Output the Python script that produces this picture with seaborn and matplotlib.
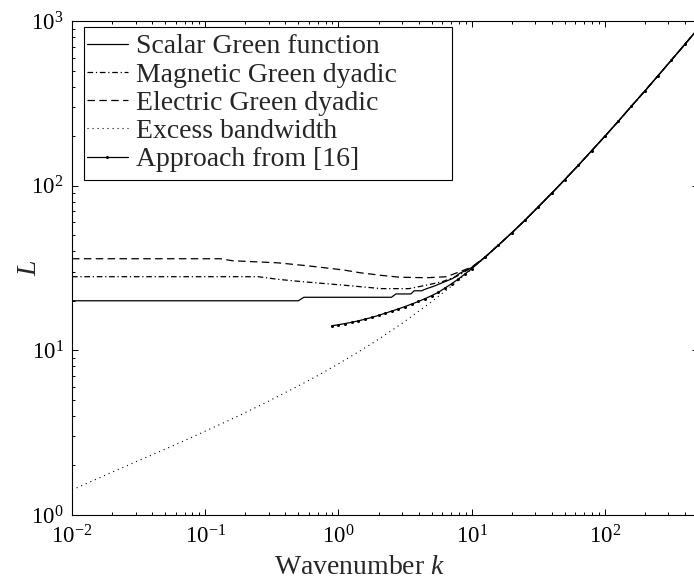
import matplotlib
matplotlib.use("Agg")
import matplotlib.pyplot as plt
from matplotlib.patches import Rectangle
import seaborn as sns

# values (wavenumber k, number of terms L)
# common high-k part where all curves lie on top of each other
k_tail = [12.6, 15.8, 20, 25.1, 31.6, 39.8, 50, 63.1, 79.4, 100, 126, 158, 200, 251, 316, 398, 500]
L_tail = [36.8, 43.4, 51.7, 61.6, 74.3, 89.8, 108.8, 132.8, 162.6, 199.6, 245.8, 303.6, 376.5, 466, 579, 721, 897]

k_scalar = [0.01, 0.5, 0.55, 2.5, 2.7, 3.5, 3.7, 4.2, 4.6, 5.2, 6.0, 7.2, 8.1, 10]
L_scalar = [20, 20, 21, 21, 22, 22, 23, 23, 23.7, 24.5, 25.7, 27.3, 29.3, 31.8]

k_magnetic = [0.01, 0.25, 0.35, 0.54, 1.08, 2.1, 3.4, 4.6, 6.0, 7.7, 10]
L_magnetic = [28, 28, 27, 26.1, 24.9, 23.7, 23.7, 24.9, 26.1, 28.1, 31.8]

k_electric = [0.01, 0.13, 0.16, 0.35, 0.59, 1.08, 1.45, 2.04, 2.88, 4.6, 6.5, 8.1, 10]
L_electric = [36, 36, 35, 34, 32.6, 30.8, 29.6, 28.6, 27.8, 27.6, 28.0, 30.0, 32.0]

k_excess = [0.01, 0.02, 0.03, 0.05, 0.07, 0.1, 0.15, 0.2, 0.3, 0.5, 0.7, 1, 1.5, 2, 3, 5, 7,
            10, 15, 20, 30, 50, 70, 100, 150, 200, 300, 500]
L_excess = [1.42, 1.82, 2.10, 2.51, 2.83, 3.23, 3.75, 4.19, 4.92, 6.08, 7.03, 8.28, 10.08, 11.68,
            14.57, 19.72, 24.44, 31.1, 41.6, 51.7, 71.2, 108.8, 145.5, 199.6, 288.5, 376.5, 551, 897]

k_approach = [0.891, 1.0, 1.12, 1.26, 1.41, 1.58, 1.78, 2.0, 2.24, 2.51, 2.82, 3.16, 3.55, 3.98,
              4.47, 5.01, 5.62, 6.31, 7.08, 7.94, 8.91, 10.0]
L_approach = [14.1, 14.3, 14.55, 14.8, 15.1, 15.45, 15.85, 16.3, 16.8, 17.3, 17.85, 18.45, 19.1,
              19.8, 20.6, 21.5, 22.5, 23.9, 25.4, 27.1, 29.1, 31.3]

labels = ["Scalar Green function", "Magnetic Green dyadic", "Electric Green dyadic",
          "Excess bandwidth", "Approach from [16]"]

sns.set_style("ticks")
plt.rcParams["font.family"] = ["Liberation Serif", "DejaVu Serif"]
plt.rcParams["mathtext.fontset"] = "custom"
plt.rcParams["mathtext.rm"] = "Liberation Sans"
plt.rcParams["mathtext.it"] = "Liberation Serif:italic"
plt.rcParams["mathtext.bf"] = "Liberation Sans:bold"

fig = plt.figure(figsize=(6.94, 5.88), dpi=100)
ax = fig.add_axes([72 / 694, 1 - 515 / 588, 626 / 694, 494 / 588])

lw = 0.9
sns.lineplot(x=k_scalar + k_tail, y=L_scalar + L_tail, ax=ax, color="k", lw=lw,
             linestyle="-", label=labels[0])
sns.lineplot(x=k_magnetic + k_tail, y=L_magnetic + L_tail, ax=ax, color="k", lw=lw,
             linestyle=(0, (4.5, 2.2, 1, 2.2)), label=labels[1])
sns.lineplot(x=k_electric + k_tail, y=L_electric + L_tail, ax=ax, color="k", lw=lw,
             linestyle=(0, (6, 3.5)), label=labels[2])
sns.lineplot(x=k_excess, y=L_excess, ax=ax, color="k", lw=0.8,
             linestyle=(0, (1, 3.5)), label=labels[3])
sns.lineplot(x=k_approach + k_tail, y=L_approach + L_tail, ax=ax, color="k", lw=lw,
             linestyle="-", marker="o", markersize=2.2, markeredgewidth=0, label=labels[4])

ax.set_xscale("log")
ax.set_yscale("log")
ax.set_xlim(1e-2, 5e2)
ax.set_ylim(1e0, 1e3)

for s in ax.spines.values():
    s.set_linewidth(0.8)
    s.set_color("k")
ax.tick_params(which="both", direction="in", top=True, right=True, colors="k",
               width=0.7, labelsize=16.5, pad=6)
ax.tick_params(axis="x", pad=7.5)
ax.tick_params(which="major", length=4)
ax.tick_params(which="minor", length=2.5)

ax.set_xlabel("Wavenumber $k$", fontsize=20)
ax.set_ylabel("$L$", fontsize=20)
ax.xaxis.set_label_coords((360 - 72) / 626, (515 - 555) / 494)
ax.yaxis.set_label_coords((42 - 72) / 626, 0.5)

leg = ax.legend(loc="upper left", bbox_to_anchor=(87 / 694, 1 - 34 / 588),
                bbox_transform=fig.transFigure, frameon=False, fontsize=20,
                borderpad=0, borderaxespad=0, handlelength=1.47, handletextpad=0.29,
                labelspacing=0.1, numpoints=1)
leg.set_zorder(6)
box = Rectangle((84 / 694, 1 - 180 / 588), 368 / 694, 153 / 588, transform=fig.transFigure,
                facecolor="white", edgecolor="k", lw=0.8, zorder=5)
ax.add_patch(box)

fig.savefig("out.png", dpi=100)
